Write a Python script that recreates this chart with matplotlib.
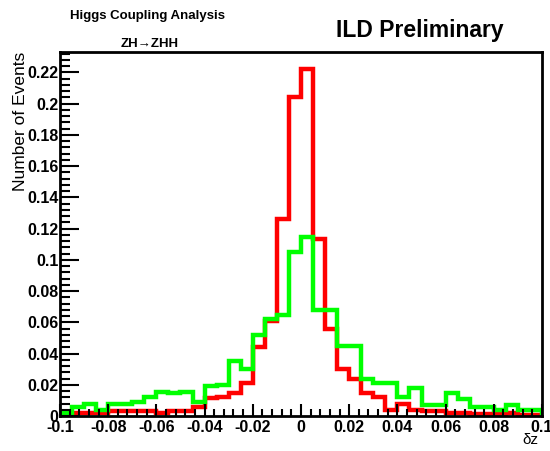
import numpy as np
import matplotlib
matplotlib.use("Agg")
import matplotlib.pyplot as plt
from matplotlib.ticker import MultipleLocator

plt.rcParams['font.family'] = ['Liberation Sans', 'DejaVu Sans']

# 40 bins of width 0.005 from -0.1 to 0.1
edges = np.linspace(-0.1, 0.1, 41)

red = [0.0005, 0.002, 0.002, 0.002, 0.003, 0.003, 0.003, 0.003, 0.002, 0.003,
       0.003, 0.006, 0.0115, 0.012, 0.0145, 0.021, 0.044, 0.061, 0.126, 0.204,
       0.222, 0.1135, 0.056, 0.030, 0.024, 0.0145, 0.0124, 0.004, 0.008, 0.004,
       0.003, 0.003, 0.002, 0.002, 0.001, 0.001, 0.001, 0.002, 0.0006, 0.0006]

green = [0.002, 0.006, 0.0077, 0.004, 0.0077, 0.008, 0.009, 0.0124, 0.0155, 0.0145,
         0.0155, 0.009, 0.019, 0.020, 0.035, 0.030, 0.052, 0.062, 0.0645, 0.105,
         0.1146, 0.068, 0.068, 0.045, 0.045, 0.024, 0.021, 0.021, 0.0124, 0.0177,
         0.007, 0.007, 0.0145, 0.011, 0.006, 0.006, 0.004, 0.007, 0.004, 0.004]

fig = plt.figure(figsize=(5.5, 4.51), dpi=100)
ax = fig.add_axes([0.109, 0.0776, 0.8765, 0.8071])

ax.stairs(red, edges, color='#ff0000', linewidth=3.2, baseline=0)
ax.stairs(green, edges, color='#00ff00', linewidth=3.2, baseline=0)

ax.set_xlim(-0.1, 0.1)
ax.set_ylim(0, 0.233)

ax.xaxis.set_major_locator(MultipleLocator(0.02))
ax.xaxis.set_minor_locator(MultipleLocator(0.004))
ax.yaxis.set_major_locator(MultipleLocator(0.02))
ax.yaxis.set_minor_locator(MultipleLocator(0.004))


def fmt(v, p):
    if abs(v) < 1e-9:
        return "0"
    return f"{v:.2f}".rstrip('0').rstrip('.')


ax.xaxis.set_major_formatter(fmt)
ax.yaxis.set_major_formatter(fmt)

ax.tick_params(axis='both', which='both', direction='in', width=1.5,
               top=False, right=False, labelsize=11.5)
ax.tick_params(axis='x', which='major', length=9, pad=3)
ax.tick_params(axis='x', which='minor', length=5)
ax.tick_params(axis='y', which='major', length=14, pad=1)
ax.tick_params(axis='y', which='minor', length=7)
for lab in ax.get_xticklabels() + ax.get_yticklabels():
    lab.set_fontweight('bold')

for s in ax.spines.values():
    s.set_linewidth(2)

fig.text(21 / 550, 1 - 52 / 451, "Number of Events", rotation=90,
         ha='center', va='top', fontsize=12.5)
fig.text(538 / 550, 1 - 440 / 451, "δz", ha='right', va='center', fontsize=11)

fig.text(148 / 550, 1 - 16 / 451, "Higgs Coupling Analysis", ha='center',
         va='center', fontsize=9.5, fontweight='bold')
fig.text(150 / 550, 1 - 44 / 451, "ZH→ZHH", ha='center', va='center',
         fontsize=9.5, fontweight='bold')
fig.text(420 / 550, 1 - 30 / 451, "ILD Preliminary", ha='center',
         va='center', fontsize=16.5, fontweight='bold')

fig.savefig("out.png", dpi=100)
